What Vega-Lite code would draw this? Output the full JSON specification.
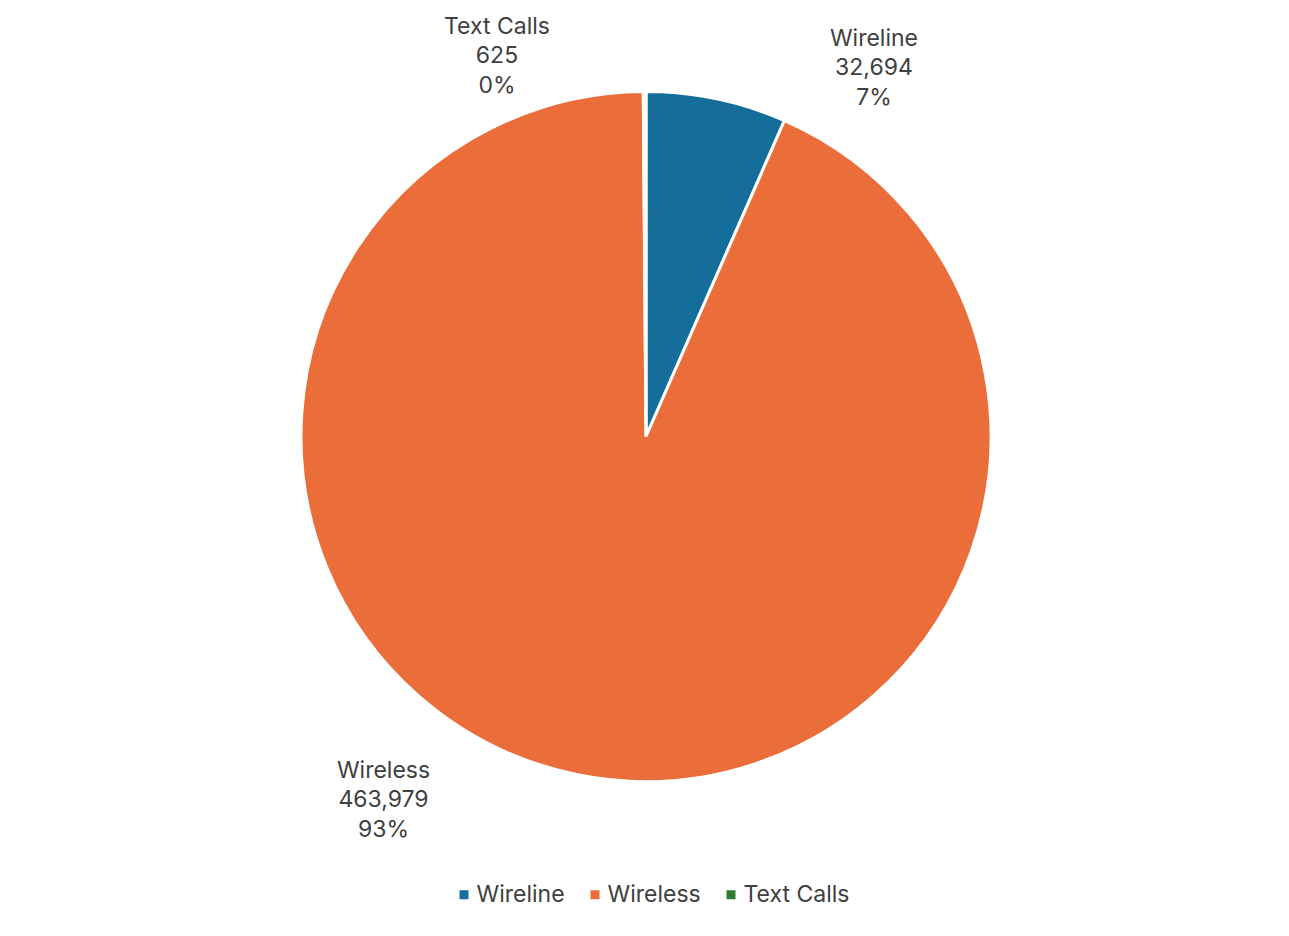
{
  "$schema": "https://vega.github.io/schema/vega-lite/v6.json",
  "width": 1289,
  "height": 873,
  "autosize": "none",
  "padding": {"left": 1.5, "top": 0, "right": 0, "bottom": 63},
  "background": "white",
  "view": {"stroke": null},
  "config": {"font": "Inter"},
  "data": {
    "values": [
      {"category": "Wireline", "value": 32694, "order": 1},
      {"category": "Wireless", "value": 463979, "order": 2},
      {"category": "Text Calls", "value": 625, "order": 3}
    ]
  },
  "transform": [
    {"joinaggregate": [{"op": "sum", "field": "value", "as": "total"}]},
    {"calculate": "datum.value / datum.total", "as": "pct"},
    {"calculate": "datum.category + '\\n' + format(datum.value, ',') + '\\n' + format(datum.pct, '.0%')", "as": "label"}
  ],
  "encoding": {
    "theta": {"field": "value", "type": "quantitative", "stack": true},
    "order": {"field": "order", "type": "quantitative"}
  },
  "layer": [
    {
      "mark": {"type": "arc", "outerRadius": 345, "stroke": "white", "strokeWidth": 3},
      "encoding": {
        "color": {
          "field": "category",
          "type": "nominal",
          "scale": {"domain": ["Wireline", "Wireless", "Text Calls"], "range": ["#156E9A", "#EB6D3A", "#2E7D32"]},
          "legend": {
            "title": null,
            "orient": "none",
            "direction": "horizontal",
            "legendX": 451,
            "legendY": 883,
            "padding": 0,
            "symbolType": "square",
            "symbolSize": 81,
            "symbolStrokeWidth": 0,
            "labelFontSize": 23,
            "labelColor": "#404040",
            "labelOffset": 1,
            "columnPadding": 18,
            "labelLimit": 300
          }
        }
      }
    },
    {
      "mark": {"type": "text", "radius": 380, "dx": 150, "dy": -26, "fontSize": 23, "lineHeight": 29.5, "lineBreak": "\n", "align": "center", "baseline": "middle", "color": "#404040"},
      "encoding": {"text": {"condition": {"test": "datum.category === 'Wireline'", "field": "label"}, "value": ""}}
    },
    {
      "mark": {"type": "text", "radius": 380, "dx": -147.5, "dy": -30, "fontSize": 23, "lineHeight": 29.5, "lineBreak": "\n", "align": "center", "baseline": "middle", "color": "#404040"},
      "encoding": {"text": {"condition": {"test": "datum.category === 'Text Calls'", "field": "label"}, "value": ""}}
    },
    {
      "mark": {"type": "text", "radius": 380, "dx": -186, "dy": -38, "fontSize": 23, "lineHeight": 29.5, "lineBreak": "\n", "align": "center", "baseline": "middle", "color": "#404040"},
      "encoding": {"text": {"condition": {"test": "datum.category === 'Wireless'", "field": "label"}, "value": ""}}
    }
  ]
}
